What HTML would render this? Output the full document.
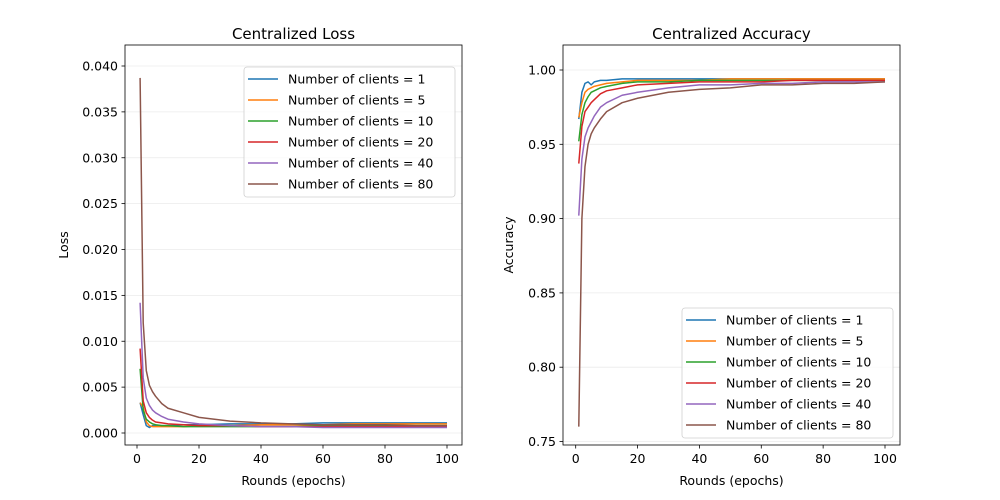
<!DOCTYPE html>
<html><head><meta charset="utf-8"><style>
body{margin:0;background:#fff;}
svg{display:block;font-family:"DejaVu Sans","Liberation Sans",sans-serif;}
</style></head><body>
<svg id="c" width="1000" height="500" xmlns="http://www.w3.org/2000/svg"></svg>
<script>
const epochs=[1,2,3,4,5,6,8,10,15,20,30,40,50,60,70,80,90,100];
const seriesLabels=["Number of clients = 1","Number of clients = 5","Number of clients = 10","Number of clients = 20","Number of clients = 40","Number of clients = 80"];
const colors=["#1f77b4","#ff7f0e","#2ca02c","#d62728","#9467bd","#8c564b"];
const loss1=[0.0033,0.0020,0.0008,0.0006,0.0008,0.0008,0.0008,0.0008,0.0009,0.0009,0.0010,0.0010,0.0010,0.0011,0.0011,0.0011,0.0011,0.0011];
const loss5=[0.0033,0.0028,0.0012,0.0008,0.0007,0.0007,0.0007,0.0007,0.0007,0.0008,0.0008,0.0009,0.0009,0.0009,0.0010,0.0010,0.0010,0.0010];
const loss10=[0.0070,0.0025,0.0015,0.0012,0.0010,0.0009,0.0008,0.0008,0.0007,0.0007,0.0007,0.0007,0.0007,0.0008,0.0008,0.0008,0.0008,0.0008];
const loss20=[0.0092,0.0035,0.0022,0.0017,0.0014,0.0012,0.0011,0.0010,0.0009,0.0008,0.0008,0.0007,0.0007,0.0007,0.0007,0.0007,0.0007,0.0007];
const loss40=[0.0142,0.0060,0.0038,0.0030,0.0025,0.0022,0.0018,0.0015,0.0012,0.0010,0.0008,0.0007,0.0007,0.0006,0.0006,0.0006,0.0006,0.0006];
const loss80=[0.0387,0.0120,0.0068,0.0052,0.0045,0.0040,0.0032,0.0027,0.0022,0.0017,0.0013,0.0011,0.0010,0.0009,0.0009,0.0009,0.0008,0.0008];
const acc1=[0.967,0.985,0.991,0.992,0.990,0.992,0.993,0.993,0.994,0.994,0.994,0.994,0.994,0.994,0.994,0.994,0.994,0.994];
const acc5=[0.968,0.978,0.985,0.987,0.988,0.989,0.990,0.991,0.992,0.993,0.993,0.993,0.994,0.994,0.994,0.994,0.994,0.994];
const acc10=[0.952,0.970,0.978,0.982,0.985,0.986,0.988,0.989,0.991,0.992,0.992,0.993,0.993,0.993,0.993,0.993,0.993,0.993];
const acc20=[0.937,0.962,0.972,0.975,0.978,0.980,0.984,0.986,0.988,0.990,0.991,0.992,0.992,0.992,0.993,0.993,0.993,0.993];
const acc40=[0.902,0.940,0.955,0.961,0.965,0.969,0.975,0.978,0.983,0.985,0.988,0.990,0.990,0.991,0.991,0.992,0.992,0.992];
const acc80=[0.760,0.900,0.935,0.950,0.957,0.961,0.967,0.972,0.978,0.981,0.985,0.987,0.988,0.990,0.990,0.991,0.991,0.992];
const lossTicks=[0,0.005,0.01,0.015,0.02,0.025,0.03,0.035,0.04];
const lossTickLabels=["0.000","0.005","0.010","0.015","0.020","0.025","0.030","0.035","0.040"];
const accTicks=[0.75,0.8,0.85,0.9,0.95,1.0];
const accTickLabels=["0.75","0.80","0.85","0.90","0.95","1.00"];
const xTicks=[0,20,40,60,80,100];

const svg=document.getElementById('c');
const NS="http://www.w3.org/2000/svg";
function mk(tag,attrs,parent){const e=document.createElementNS(NS,tag);for(const k in attrs)e.setAttribute(k,attrs[k]);(parent||svg).appendChild(e);return e;}

function panel(opt){
  const g=mk('g',{});
  
  
  const L=opt.left,R=opt.right,T=45,B=445;
  const xs=v=>opt.x0+(v-0)*(opt.x100-opt.x0)/100;
  const ys=v=>opt.yA+(v-opt.vA)*(opt.yB-opt.yA)/(opt.vB-opt.vA);
  opt.yt.forEach((t,i)=>{
    const y=ys(t);
    const gl=mk('line',{x1:L,x2:R,y1:y,y2:y,stroke:'#ebebeb','stroke-width':0.8},g);
    
    
    mk('line',{x1:L-3.5,x2:L,y1:y,y2:y,stroke:'#000','stroke-width':0.8},g);
    const tx=mk('text',{x:L-7,y:y+4.5,'text-anchor':'end','font-size':'12.5px',fill:'#000'},g);
    tx.textContent=opt.ytl[i];
    
    
  });
  xTicks.forEach(t=>{
    const x=xs(t);
    mk('line',{x1:x,x2:x,y1:B,y2:B+3.5,stroke:'#000','stroke-width':0.8},g);
    const tx=mk('text',{x:x,y:B+18,'text-anchor':'middle','font-size':'12.5px',fill:'#000'},g);
    tx.textContent=String(t);
    
    
  });
  opt.data.forEach((arr,si)=>{
    const d=arr.map((v,i)=>(i?'L':'M')+xs(epochs[i]).toFixed(2)+','+ys(v).toFixed(2)).join(' ');
    const p=mk('path',{d:d,fill:'none',stroke:colors[si],'stroke-width':1.5,'stroke-linejoin':'round'},g);
    
    
  });
  mk('rect',{x:L,y:T,width:R-L,height:B-T,fill:'none',stroke:'#000','stroke-width':0.8},g);
  const ti=mk('text',{x:(L+R)/2,y:T-6,'text-anchor':'middle','font-size':'15px',fill:'#000'},g);
  ti.textContent=opt.title;
  
  
  const xl=mk('text',{x:(L+R)/2,y:485,'text-anchor':'middle','font-size':'12.5px',fill:'#000'},g);
  xl.textContent='Rounds (epochs)';
  
  
  const yl=mk('text',{x:0,y:0,'text-anchor':'middle','font-size':'12.5px',fill:'#000',transform:`translate(${opt.ylx},${(T+B)/2}) rotate(-90)`},g);
  yl.textContent=opt.ylabel;
  
  
  const lg=mk('g',{},g);
  
  
  mk('rect',{x:opt.lx,y:opt.ly,width:211,height:130,rx:3,fill:'#fff','fill-opacity':0.8,stroke:'#d0d0d0','stroke-width':0.8},lg);
  seriesLabels.forEach((s,i)=>{
    const y=opt.ly+12+i*21;
    const e=mk('g',{},lg);
    
    
    mk('line',{x1:opt.lx+4,x2:opt.lx+34,y1:y,y2:y,stroke:colors[i],'stroke-width':1.5},e);
    const t=mk('text',{x:opt.lx+44,y:y+4.5,'font-size':'12.5px',fill:'#000'},e);
    t.textContent=s;
  });
}
panel({name:'loss-panel',left:125,right:462,x0:137,x100:447,yA:433,vA:0,yB:66,vB:0.04,yt:lossTicks,ytl:lossTickLabels,data:[loss1,loss5,loss10,loss20,loss40,loss80],title:'Centralized Loss',ylabel:'Loss',ylx:68,lx:244,ly:67});
panel({name:'accuracy-panel',left:563,right:900,x0:575.7,x100:885,yA:441.5,vA:0.75,yB:70,vB:1.0,yt:accTicks,ytl:accTickLabels,data:[acc1,acc5,acc10,acc20,acc40,acc80],title:'Centralized Accuracy',ylabel:'Accuracy',ylx:513,lx:682,ly:308});
</script>
</body></html>
